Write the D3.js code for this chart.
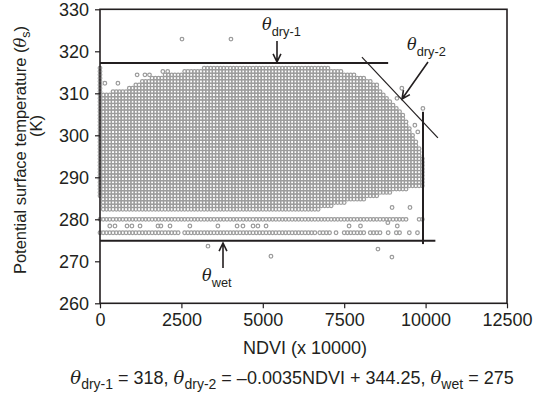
<!DOCTYPE html>
<html>
<head>
<meta charset="utf-8">
<script src="https://cdn.jsdelivr.net/npm/d3@7"></script>
<style>
  body { margin: 0; background: #fff; }
  svg text { font-family: "Liberation Sans", Arial, sans-serif; fill: #231f20; }
</style>
</head>
<body>
<svg id="chart" width="543" height="396"></svg>
<script>
// axis ticks
const xTicks = [0, 2500, 5000, 7500, 10000, 12500];
const yTicks = [260, 270, 280, 290, 300, 310, 320, 330];

// envelope of the dense NDVI / Ts cloud
const envNdvi   = [0,     100,   600,   900,   1200,  1500,  2000,  2500,  3000,  3500,  6500,  7000,  7500,  8000,  8500,  9000,  9300,  9600,  9800,  9950];
const envTop    = [316.3, 310.1, 310.8, 311.3, 312.7, 313.4, 314.4, 315.1, 315.8, 316.4, 316.4, 316.0, 315.1, 314.1, 312.0, 307.9, 305.1, 300.5, 297.0, 294.1];
const envBottom = [285.3, 282.0, 282.0, 282.0, 282.0, 282.0, 282.0, 282.0, 282.0, 282.0, 282.0, 283.0, 284.0, 284.5, 285.5, 286.5, 287.0, 287.5, 288.0, 288.0];
const ndviStep = 100;
const tsStep = 0.8;
const tsBase = 276.8;

// two quantised rows below the cloud
const rowTs = [280.0, 276.8];
const rowSegments = [
  [[0, 9450], [9800, 9950]],
  [[0, 2400], [2600, 6600], [6750, 7050], [7250, 7300], [7500, 8150], [8300, 8600], [8850, 8850], [9100, 9250], [9500, 9500], [9750, 9750]]
];

// loose points
const looseNdvi = [300, 460, 830, 980, 1230, 1780, 1870, 2150, 2760, 3620, 4210, 4390, 4700, 4850, 5100, 7650, 8000, 8840, 9130,
                   8970, 9520, 150, 550, 1140, 1380, 1520, 1930, 2080, 9270, 9120, 9670, 9760, 9917,
                   2518, 4022, 3316, 5250, 8536, 8965];
const looseTs   = [278.4, 278.4, 278.4, 278.4, 278.4, 278.4, 278.4, 278.4, 278.4, 278.4, 278.4, 278.4, 278.4, 278.4, 278.4, 278.4, 278.4, 279.2, 278.4,
                   282.8, 282.8, 312.4, 312.4, 314.4, 314.4, 314.4, 315.2, 315.2, 311.2, 308.8, 302.4, 300.8, 306.4,
                   322.9, 322.9, 273.6, 271.2, 272.9, 271.0];

// reference lines
const dryOneLine = [[0, 317.2], [8850, 317.2]];
const dryTwoLine = [[8044, 318.6], [10378, 299.4]];
const wetLine    = [[0, 274.9], [10300, 274.9]];
const edgeLine   = [[9920, 305.6], [9920, 274.1]];

const svg = d3.select("#chart");
const x = d3.scaleLinear().domain([0, 12500]).range([100, 507]);
const y = d3.scaleLinear().domain([260, 330]).range([303.3, 9.3]);
const ink = "#231f20";

// build the dense cloud from the envelope
const topAt = d3.scaleLinear().domain(envNdvi).range(envTop);
const bottomAt = d3.scaleLinear().domain(envNdvi).range(envBottom);
const points = [];
for (let n = 0; n <= 9950; n += ndviStep) {
  const lo = bottomAt(n), hi = topAt(n);
  const kStart = Math.ceil((lo - tsBase) / tsStep - 1e-6);
  for (let k = kStart; tsBase + k * tsStep <= hi + 1e-6; k++) {
    points.push([n, tsBase + k * tsStep]);
  }
}
rowSegments.forEach((segs, i) => {
  segs.forEach(s => {
    for (let n = s[0]; n <= s[1]; n += ndviStep) points.push([n, rowTs[i]]);
  });
});
looseNdvi.forEach((n, i) => points.push([n, looseTs[i]]));

svg.append("g")
  .selectAll("circle")
  .data(points)
  .join("circle")
  .attr("cx", d => x(d[0]))
  .attr("cy", d => y(d[1]))
  .attr("r", 1.8)
  .attr("fill", "none")
  .attr("stroke", "#9c9c9c")
  .attr("stroke-width", 1.25);

// axes
const xAxis = svg.append("g")
  .attr("transform", "translate(0,303.3)")
  .call(d3.axisBottom(x).tickValues(xTicks).tickSize(5).tickPadding(5).tickFormat(d3.format("d")));
const yAxis = svg.append("g")
  .attr("transform", "translate(100,0)")
  .call(d3.axisLeft(y).tickValues(yTicks).tickSize(5).tickPadding(6));
[xAxis, yAxis].forEach(g => {
  g.select(".domain").remove();
  g.selectAll("line").attr("stroke", ink).attr("stroke-width", 1.2);
  g.selectAll("text").style("font-size", "18px").attr("fill", ink);
});

// frame
svg.append("rect")
  .attr("x", x(0)).attr("y", y(330))
  .attr("width", x(12500) - x(0)).attr("height", y(260) - y(330))
  .attr("fill", "none").attr("stroke", ink).attr("stroke-width", 1.6);

// reference lines
const line = d3.line().x(d => x(d[0])).y(d => y(d[1]));
[[dryOneLine, 2], [wetLine, 2], [edgeLine, 2], [dryTwoLine, 1.2]].forEach(([pts, w]) => {
  svg.append("path").attr("d", line(pts)).attr("fill", "none")
    .attr("stroke", ink).attr("stroke-width", w);
});

// arrows with open heads
function arrow(x1, y1, x2, y2) {
  const a = Math.atan2(y2 - y1, x2 - x1), L = 9, s = 0.45;
  svg.append("path")
    .attr("d", `M${x1},${y1}L${x2},${y2}` +
      `M${x2 - L * Math.cos(a - s)},${y2 - L * Math.sin(a - s)}L${x2},${y2}` +
      `L${x2 - L * Math.cos(a + s)},${y2 - L * Math.sin(a + s)}`)
    .attr("fill", "none").attr("stroke", ink).attr("stroke-width", 1.6);
}
arrow(277, 41, 277, 62);
arrow(428, 62, 402, 99);
arrow(223, 268, 223, 243);

function theta(px, py, sub, size) {
  const t = svg.append("text").attr("x", px).attr("y", py).style("font-size", size + "px");
  t.append("tspan").text("θ").style("font-style", "italic").style("font-family", "'DejaVu Serif', serif");
  t.append("tspan").text(sub).attr("dy", size * 0.35).style("font-size", (size * 0.8) + "px");
  return t;
}
theta(262, 30, "dry-1", 16);
theta(407, 50, "dry-2", 16);
theta(202, 281, "wet", 16);

// axis titles
svg.append("text").attr("x", 305).attr("y", 354).attr("text-anchor", "middle")
  .style("font-size", "18px").text("NDVI (x 10000)");

const yl = svg.append("text").attr("transform", "translate(26,150) rotate(-90)")
  .attr("text-anchor", "middle").style("font-size", "16.5px");
yl.append("tspan").text("Potential surface temperature (");
yl.append("tspan").text("θ").style("font-style", "italic").style("font-family", "'DejaVu Serif', serif");
yl.append("tspan").text("s").attr("dy", 4).style("font-size", "12.5px");
yl.append("tspan").text(")").attr("dy", -4);
svg.append("text").attr("transform", "translate(42,126) rotate(-90)")
  .attr("text-anchor", "middle").style("font-size", "16.5px").text("(K)");

// equation caption
const cap = svg.append("text").attr("x", 292).attr("y", 384).attr("text-anchor", "middle").style("font-size", "18px");
const parts = [["dry-1", " = 318, "], ["dry-2", " = \u20130.0035NDVI + 344.25, "], ["wet", " = 275"]];
parts.forEach(([sub, rest]) => {
  cap.append("tspan").text("θ").style("font-style", "italic").style("font-family", "'DejaVu Serif', serif");
  cap.append("tspan").text(sub).attr("dy", 5).style("font-size", "14px");
  cap.append("tspan").text(rest).attr("dy", -5);
});
</script>
</body>
</html>
